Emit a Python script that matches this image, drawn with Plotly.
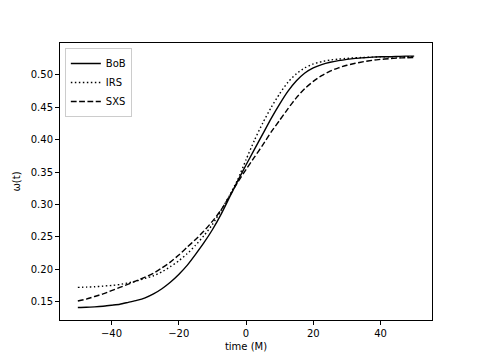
import plotly.graph_objects as go

# time samples (M)
t = [-50, -47.5, -45, -42.5, -40, -37.5, -35, -32.5, -30, -27.5,
     -25, -22.5, -20, -17.5, -15, -12.5, -10, -7.5, -5, -2.5,
     0, 2.5, 5, 7.5, 10, 12.5, 15, 17.5, 20, 22.5,
     25, 27.5, 30, 32.5, 35, 37.5, 40, 42.5, 45, 47.5, 50]

# omega(t)
bob = [0.141, 0.1413, 0.142, 0.143, 0.1445, 0.146, 0.149, 0.152, 0.156, 0.162,
       0.170, 0.180, 0.192, 0.206, 0.223, 0.241, 0.261, 0.284, 0.310, 0.336,
       0.361, 0.385, 0.409, 0.433, 0.455, 0.475, 0.491, 0.503, 0.511, 0.516,
       0.5195, 0.522, 0.524, 0.5255, 0.5265, 0.5275, 0.528, 0.528, 0.5285, 0.529, 0.529]
irs = [0.172, 0.1725, 0.173, 0.174, 0.175, 0.1765, 0.179, 0.182, 0.186, 0.190,
       0.196, 0.204, 0.213, 0.224, 0.237, 0.252, 0.269, 0.290, 0.313, 0.338,
       0.369, 0.399, 0.426, 0.450, 0.471, 0.489, 0.502, 0.511, 0.517, 0.5205,
       0.523, 0.5245, 0.5255, 0.5265, 0.527, 0.5275, 0.528, 0.528, 0.528, 0.528, 0.528]
sxs = [0.151, 0.154, 0.158, 0.162, 0.167, 0.172, 0.177, 0.1825, 0.188, 0.194,
       0.202, 0.211, 0.222, 0.234, 0.246, 0.259, 0.274, 0.291, 0.312, 0.334,
       0.354, 0.373, 0.392, 0.412, 0.430, 0.448, 0.465, 0.479, 0.490, 0.499,
       0.506, 0.511, 0.515, 0.518, 0.5205, 0.5225, 0.524, 0.525, 0.526, 0.5265, 0.527]

x_ticks = [-40, -20, 0, 20, 40]
y_ticks = [0.15, 0.20, 0.25, 0.30, 0.35, 0.40, 0.45, 0.50]

fig = go.Figure()
fig.add_trace(go.Scatter(x=t, y=bob, mode='lines', name='BoB',
                         line=dict(color='black', width=1.4, shape='spline', smoothing=0.6)))
fig.add_trace(go.Scatter(x=t, y=irs, mode='lines', name='IRS',
                         line=dict(color='black', width=1.4, dash='1.5px,2.5px',
                                   shape='spline', smoothing=0.6)))
fig.add_trace(go.Scatter(x=t, y=sxs, mode='lines', name='SXS',
                         line=dict(color='black', width=1.4, dash='5.8px,2.5px',
                                   shape='spline', smoothing=0.6)))

axis_style = dict(showline=True, linecolor='black', linewidth=1, mirror=True,
                  ticks='outside', ticklen=4, tickcolor='black', showgrid=False,
                  zeroline=False, automargin=False,
                  tickfont=dict(size=10, color='black'))

# page body has an 8px margin, so the margins are shifted to compensate
fig.update_layout(
    width=480, height=360,
    margin=dict(l=52, r=56, t=35, b=48),
    paper_bgcolor='white', plot_bgcolor='white',
    font=dict(family='DejaVu Sans', size=10, color='black'),
    xaxis=dict(range=[-55.3, 55.3], tickvals=x_ticks,
               ticktext=[str(v).replace('-', '\u2212') for v in x_ticks],
               title=dict(text='time (M)', font=dict(size=10), standoff=4), **axis_style),
    yaxis=dict(range=[0.1217, 0.5493], tickvals=y_ticks,
               ticktext=[f'{v:.2f}' for v in y_ticks],
               title=dict(text='\u03c9(t)', font=dict(size=10), standoff=8), **axis_style),
    legend=dict(x=0.013, y=0.982, xanchor='left', yanchor='top',
                bordercolor='#cccccc', borderwidth=1, bgcolor='white',
                font=dict(size=10), tracegroupgap=0, itemwidth=30),
    showlegend=True,
)

fig.write_html("out.html")
